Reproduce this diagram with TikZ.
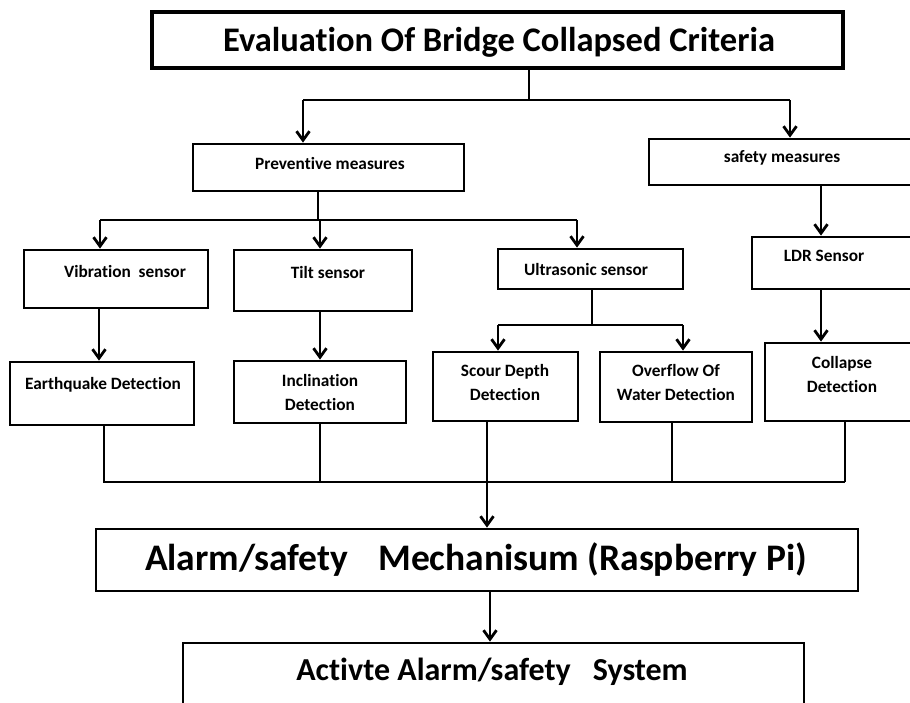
\documentclass[tikz,border=0pt]{standalone}
\usepackage{fontspec}
\setmainfont{Carlito}[Ligatures=NoCommon]
\usetikzlibrary{arrows.meta,positioning}

\tikzset{
  box/.style={draw,line width=2.8pt,rectangle,inner sep=0pt},
  lbl/.style={font=\bfseries\fontsize{17.3}{24}\selectfont,align=center},
  biglbl/.style={font=\bfseries\fontsize{34.5}{40}\selectfont},
  wire/.style={line width=2.8pt},
  arr/.style={line width=2.8pt,-{Straight Barb[length=9pt,width=13pt,line width=2.8pt]}}
}

\begin{document}
\begin{tikzpicture}[x=1pt,y=-1pt,line cap=butt,line join=miter]
  \useasboundingbox (0,0) rectangle (910,702);
  \clip (0,0) rectangle (910,702);
  % boxes
  \node[box,line width=3.4pt,minimum width=691pt,minimum height=56pt] (top) at (497.5,40) {};
  \node[box,minimum width=271pt,minimum height=47pt] (prev) at (328.5,167.5) {};
  \node[box,minimum width=281pt,minimum height=46pt] (safe) at (789.5,162) {};
  \node[box,minimum width=184pt,minimum height=58pt] (vib) at (116,279) {};
  \node[box,minimum width=178pt,minimum height=61pt] (tilt) at (323,280.5) {};
  \node[box,minimum width=185pt,minimum height=40pt] (ultra) at (590.5,269) {};
  \node[box,minimum width=178pt,minimum height=52pt] (ldr) at (841,263) {};
  \node[box,minimum width=184pt,minimum height=63pt] (eq) at (102,393.5) {};
  \node[box,minimum width=172pt,minimum height=62pt] (incl) at (320,392) {};
  \node[box,minimum width=145pt,minimum height=69pt] (scour) at (505.5,386.5) {};
  \node[box,minimum width=152pt,minimum height=70pt] (over) at (676,387) {};
  \node[box,minimum width=165pt,minimum height=78pt] (coll) at (847.5,382) {};
  \node[box,minimum width=762pt,minimum height=62pt] (alarm) at (477,560) {};
  \node[box,minimum width=621pt,minimum height=77pt] (act) at (493.5,681.5) {};
  % texts
  \node[biglbl] (topt) at (499,42) {Evaluation Of Bridge Collapsed Criteria};
  \node[lbl] (prevt) at (330,163) {Preventive measures};
  \node[lbl] (safet) at (782,158) {safety measures};
  \node[lbl] (vibt) at (125,271) {Vibration\ \ sensor};
  \node[lbl] (tiltt) at (328,272) {Tilt sensor};
  \node[lbl] (ultrat) at (586,269) {Ultrasonic sensor};
  \node[lbl] (ldrt) at (824,256) {LDR Sensor};
  \node[lbl] (eqt) at (103,385) {Earthquake Detection};
  \node[lbl] (inclt) at (320,392) {Inclination\\Detection};
  \node[lbl] (scourt) at (505,382) {Scour Depth\\Detection};
  \node[lbl] (overt) at (676,382) {Overflow Of\\Water Detection};
  \node[lbl] (collt) at (842,374) {Collapse\\Detection};
  \node[biglbl,font=\bfseries\fontsize{37.5}{42}\selectfont] (alarmt) at (476,560) {Alarm/safety\hspace{30pt}Mechanisum (Raspberry Pi)};
  \node[biglbl,font=\bfseries\fontsize{32}{36}\selectfont] (actt) at (492,672) {Activte Alarm/safety\hspace{22pt}System};
  % first split
  \coordinate (j1) at (529,100);
  \coordinate (j1a) at (303,100);
  \coordinate (j1b) at (790,100);
  \draw[wire] (top.south -| j1) -- (j1);
  \draw[wire] (j1a) -- (j1b);
  \draw[arr] (j1a) -- (j1a |- prev.north);
  \draw[arr] (j1b) -- (j1b |- safe.north);
  % preventive split
  \coordinate (j2) at (318,220);
  \coordinate (j2a) at (100,220);
  \coordinate (j2b) at (320,220);
  \coordinate (j2c) at (577,220);
  \draw[wire] (prev.south -| j2) -- (j2);
  \draw[wire] (j2a) -- (j2c);
  \draw[arr] (j2a) -- (j2a |- vib.north);
  \draw[arr] (j2b) -- (j2b |- tilt.north);
  \draw[arr] (j2c) -- (j2c |- ultra.north);
  \coordinate (s1) at (821,0);
  \draw[arr] (safe.south -| s1) -- (ldr.north -| s1);
  % sensors to detections
  \coordinate (v1) at (99,0);
  \coordinate (t1) at (320,0);
  \draw[arr] (vib.south -| v1) -- (eq.north -| v1);
  \draw[arr] (tilt.south -| t1) -- (incl.north -| t1);
  \draw[arr] (ldr.south -| s1) -- (coll.north -| s1);
  \coordinate (j3) at (592,325);
  \coordinate (j3a) at (498,325);
  \coordinate (j3b) at (683,325);
  \draw[wire] (ultra.south -| j3) -- (j3);
  \draw[wire] (j3a) -- (j3b);
  \draw[arr] (j3a) -- (j3a |- scour.north);
  \draw[arr] (j3b) -- (j3b |- over.north);
  % collect to alarm
  \coordinate (c1) at (104,482);
  \coordinate (c2) at (320,482);
  \coordinate (c3) at (487,482);
  \coordinate (c4) at (672,482);
  \coordinate (c5) at (845,482);
  \draw[wire] (eq.south -| c1) -- (c1) -- (c5);
  \draw[wire] (incl.south -| c2) -- (c2);
  \draw[wire] (over.south -| c4) -- (c4);
  \draw[wire] (coll.south -| c5) -- (c5);
  \draw[arr] (scour.south -| c3) -- (alarm.north -| c3);
  \coordinate (a1) at (490,0);
  \draw[arr] (alarm.south -| a1) -- (act.north -| a1);
\end{tikzpicture}
\end{document}
